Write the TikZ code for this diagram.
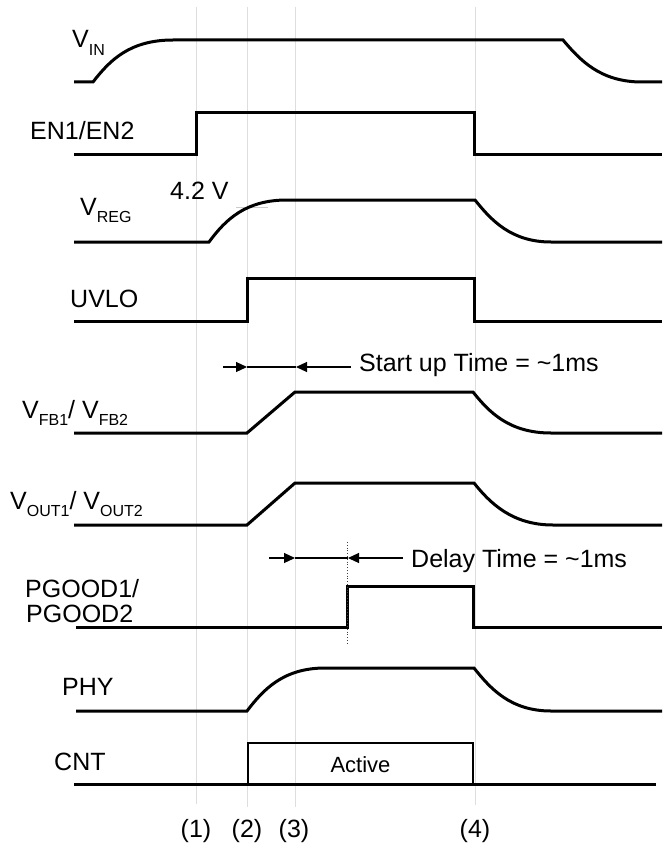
\documentclass[tikz,border=0pt]{standalone}
\usepackage{fontspec}
\setmainfont{Liberation Sans}
\usetikzlibrary{arrows.meta}
\newcommand{\sgl}[2]{#1\raisebox{-7.5pt}{\fontsize{16}{16}\selectfont #2}}
\begin{document}
\begin{tikzpicture}[x=1pt,y=-1pt,
  trace/.style={line width=3pt, line join=miter},
  gridline/.style={line width=0.8pt, draw=black!13},
  lbl/.style={anchor=base west, inner sep=0pt, font=\fontsize{25}{30}\selectfont},
  tlbl/.style={anchor=base, inner sep=0pt, font=\fontsize{25}{30}\selectfont},
  dimline/.style={line width=1.2pt},
  dimarrow/.style={dimline, -{Triangle[length=11pt,width=10pt]}},
  boxline/.style={line width=1.3pt, line join=miter}
]
\useasboundingbox (0,0) rectangle (662,845);

% grid lines
\draw[gridline] (196,7) -- (196,804);
\draw[gridline] (247,7) -- (247,807);
\draw[gridline] (295,7) -- (295,807);
\draw[gridline] (475,7) -- (475,805);

% labels
\node[lbl] (vin) at (72,48) {\sgl{V}{IN}};
\node[lbl] (en) at (30,140) {EN1/EN2};
\node[lbl] (vreg) at (80,215) {\sgl{V}{REG}};
\node[lbl] (lv) at (170,200) {4.2 V};
\node[lbl] (uvlo) at (70,307) {UVLO};
\node[lbl] (vfb) at (22,418) {\sgl{V}{FB1}/ \sgl{V}{FB2}};
\node[lbl] (vout) at (10,509) {\sgl{V}{OUT1}/ \sgl{V}{OUT2}};
\node[lbl] (pg1) at (25,597) {PGOOD1/};
\node[lbl] (pg2) at (26,622) {PGOOD2};
\node[lbl] (phy) at (62,695) {PHY};
\node[lbl] (cnt) at (54,770) {CNT};

% 4.2 V level mark
\draw[line width=0.8pt, draw=black!20] (236,207) -- (268,207);

% traces
\draw[trace] (74,82) -- (93,82) .. controls (110,60) and (130,40) .. (173,40)
  -- (563,40) .. controls (580,60) and (600,82) .. (642,82) -- (662,82);
\draw[trace] (74,155) -- (196,155) -- (196,113) -- (474,113) -- (474,155) -- (662,155);
\draw[trace] (74,242) -- (209,242) .. controls (226,219) and (246,200) .. (287,200)
  -- (475,200) .. controls (491,220) and (511,242) .. (551,242) -- (662,242);
\draw[trace] (74,321) -- (247,321) -- (247,278) -- (474,278) -- (474,321) -- (662,321);
\draw[trace] (74,433) -- (247,433) -- (295,392) -- (473,392)
  .. controls (489,412) and (509,433) .. (551,433) -- (662,433);
\draw[trace] (74,525) -- (247,525) -- (295,483) -- (474,483)
  .. controls (490,503) and (512,525) .. (553,525) -- (662,525);
\draw[trace] (76,627) -- (347,627) -- (347,586) -- (473,586) -- (473,627) -- (662,627);
\draw[trace] (76,711) -- (247,711) .. controls (263,690) and (283,668) .. (325,668)
  -- (474,668) .. controls (490,688) and (510,711) .. (551,711) -- (662,711);
\draw[trace] (74,784) -- (656,784);

% CNT active box
\draw[boxline] (248,784) -- (248,743) -- (473,743) -- (473,784);
\node[tlbl, font=\fontsize{22}{26}\selectfont] (act) at (360.5,772) {Active};

% start-up time dimension
\coordinate (s0) at (223,367);
\coordinate (s1) at (247,367);
\coordinate (s2) at (296,367);
\coordinate (s3) at (351,367);
\draw[dimline] (s1) -- (s2);
\draw[dimarrow] (s0) -- (s1);
\draw[dimarrow] (s3) -- (s2);
\node[lbl] (st) at (359,371) {Start up Time = \textasciitilde1ms};

% delay time dimension
\draw[line width=0.8pt, dotted, draw=black!75] (347,542) -- (347,643);
\coordinate (d0) at (269,558);
\coordinate (d1) at (295,558);
\coordinate (d2) at (348,558);
\coordinate (d3) at (403,558);
\draw[dimline] (d1) -- (d2);
\draw[dimarrow] (d0) -- (d1);
\draw[dimarrow] (d3) -- (d2);
\node[lbl] (dt) at (411,567) {Delay Time = \textasciitilde1ms};

% time markers
\node[tlbl] (t1) at (196,837) {(1)};
\node[tlbl] (t2) at (247,837) {(2)};
\node[tlbl] (t3) at (294,837) {(3)};
\node[tlbl] (t4) at (475,837) {(4)};
\end{tikzpicture}
\end{document}
